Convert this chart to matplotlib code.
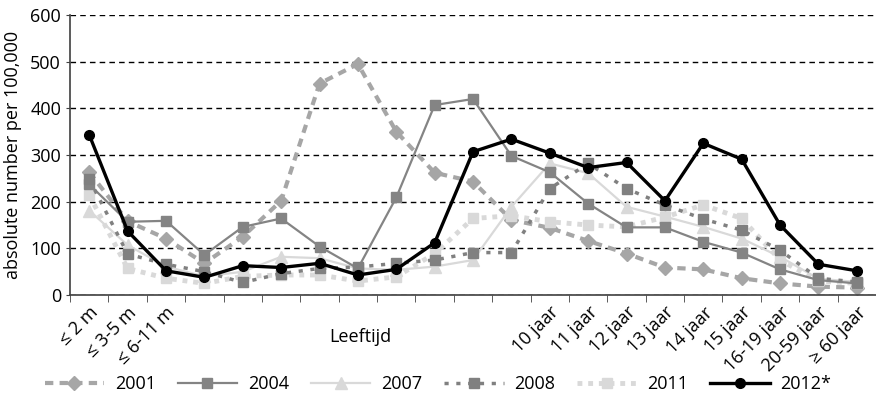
import matplotlib.pyplot as plt
from matplotlib.ticker import MultipleLocator

categories = ['≤ 2 m', '≤ 3-5 m', '≤ 6-11 m',
              '', '', '', '', '', '', '', '', '',
              '10 jaar', '11 jaar', '12 jaar', '13 jaar', '14 jaar', '15 jaar',
              '16-19 jaar', '20-59 jaar', '≥ 60 jaar']

y2001 = [263, 158, 121, 68, 125, 202, 453, 495, 350, 262, 243, 161, 144, 116, 89, 59, 55, 36, 25, 18, 16]
y2004 = [237, 157, 159, 86, 146, 164, 104, 57, 209, 407, 420, 298, 263, 196, 145, 145, 114, 91, 55, 32, 25]
y2007 = [181, 107, 61, 40, 50, 82, 79, 57, 54, 61, 75, 189, 282, 261, 189, 168, 146, 121, 82, 35, 28]
y2008 = [248, 88, 66, 50, 27, 46, 57, 60, 68, 75, 91, 91, 228, 282, 228, 193, 163, 139, 96, 36, 28]
y2011 = [214, 57, 36, 25, 40, 43, 43, 30, 39, 89, 164, 170, 157, 150, 146, 167, 193, 164, 75, 30, 25]
y2012 = [343, 137, 52, 38, 63, 59, 68, 43, 55, 112, 307, 334, 304, 273, 284, 202, 325, 291, 150, 66, 52]

def main():
    plt.rcParams['font.family'] = ['Open Sans', 'DejaVu Sans']
    fig = plt.figure(figsize=(8.76, 4.15), dpi=100)
    ax = fig.add_axes([0.080, 0.289, 0.920, 0.675])
    xs = list(range(len(categories)))

    ax.plot(xs, y2001, color='#a6a6a6', lw=3, ls=(0, (2, 1.5)), marker='D', ms=7,
            label='2001', zorder=2)
    ax.plot(xs, y2004, color='#848484', lw=1.6, marker='s', ms=7, label='2004', zorder=3)
    ax.plot(xs, y2007, color='#d9d9d9', lw=1.6, marker='^', ms=8, label='2007', zorder=2)
    ax.plot(xs, y2008, color='#808080', lw=2.5, ls=(0, (1.2, 2.2)), marker='s', ms=7,
            label='2008', zorder=3)
    ax.plot(xs, y2011, color='#d9d9d9', lw=3.5, ls=(0, (1, 1.2)), marker='s', ms=7,
            label='2011', zorder=2)
    ax.plot(xs, y2012, color='black', lw=2.4, marker='o', ms=7, label='2012*', zorder=4)

    ax.set_xlim(-0.5, len(categories) - 0.5)
    ax.set_ylim(0, 600)
    ax.yaxis.set_major_locator(MultipleLocator(100))
    ax.grid(axis='y', color='black', ls=(0, (4, 3)), lw=1)
    ax.set_axisbelow(True)
    for side in ['top', 'right']:
        ax.spines[side].set_visible(False)
    ax.spines['left'].set_color('#404040')
    ax.spines['bottom'].set_color('#404040')
    ax.spines['left'].set_linewidth(1.2)
    ax.spines['bottom'].set_linewidth(1.2)

    ax.set_xticks(xs)
    ax.set_xticklabels(categories, rotation=45, ha='right', rotation_mode='anchor', fontsize=13)
    ax.tick_params(axis='x', which='major', length=0, pad=6)
    ax.set_xticks([x - 0.5 for x in xs] + [len(xs) - 0.5], minor=True)
    ax.tick_params(axis='x', which='minor', length=5, color='#404040')
    ax.tick_params(axis='y', length=3, labelsize=13, color='#404040')

    ax.set_ylabel('absolute number per 100,000', fontsize=13, labelpad=6)
    ax.text(0.36, -0.15, 'Leeftijd', transform=ax.transAxes, fontsize=13,
            ha='center', va='center')

    fig.legend(loc='center', bbox_to_anchor=(0.5, 0.075), ncol=6, frameon=False,
               fontsize=13, handlelength=3.3, columnspacing=1.2, handletextpad=0.6)
    fig.savefig('out.png', dpi=100)

if __name__ == '__main__':
    main()
